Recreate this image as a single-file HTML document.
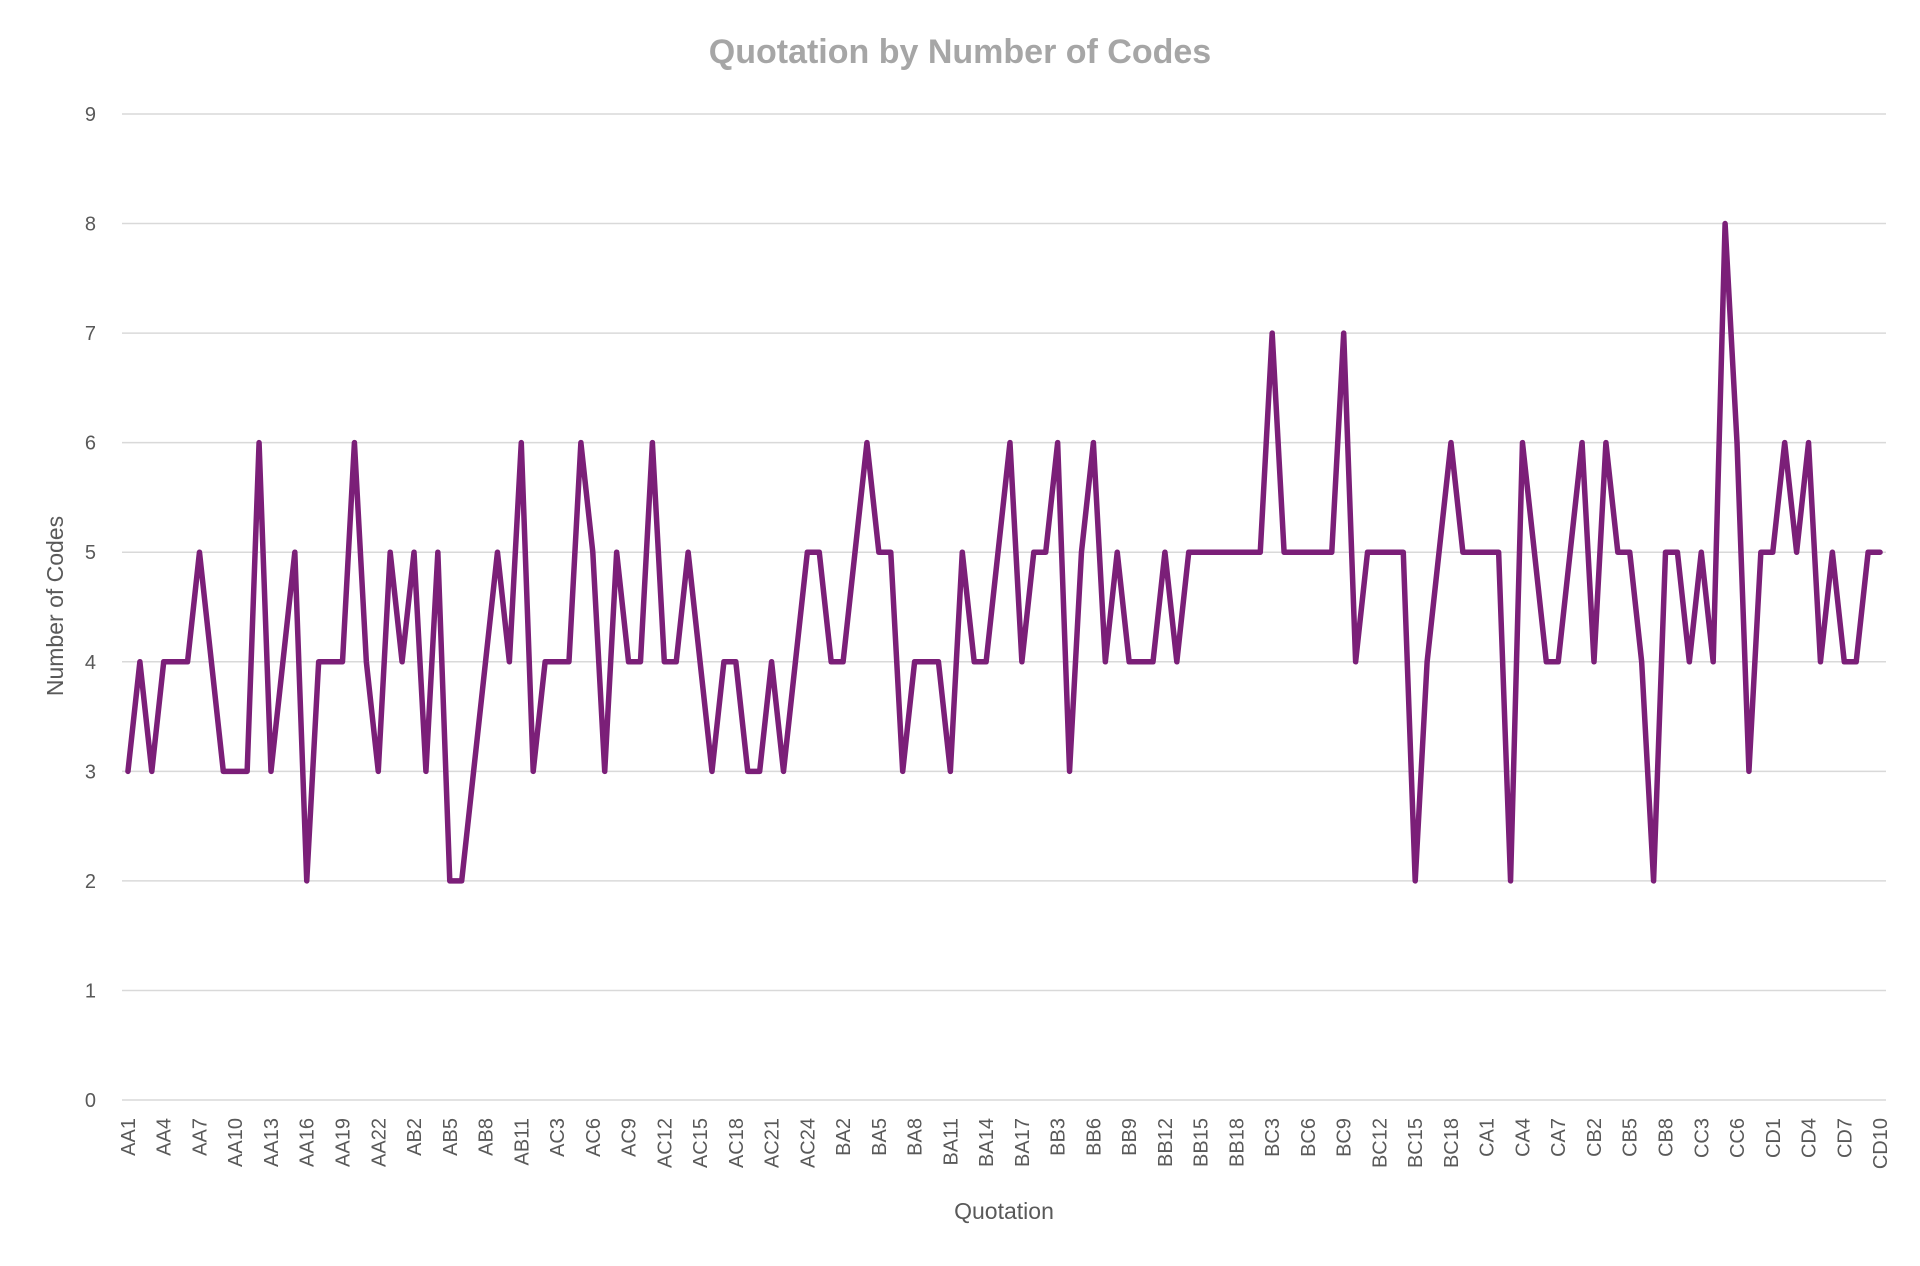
<!DOCTYPE html>
<html><head><meta charset="utf-8"><style>
html,body{margin:0;padding:0;background:#fff;}
svg{display:block;font-family:"Liberation Sans",sans-serif;}
</style></head><body>
<svg id="chart" width="1920" height="1266" viewBox="0 0 1920 1266" xmlns="http://www.w3.org/2000/svg">
<text x="960" y="63" text-anchor="middle" font-size="34" font-weight="bold" fill="#a6a6a6">Quotation by Number of Codes</text>
<g id="grid"></g>
<g id="yticks"></g>
<g id="xticks"></g>
<g id="series"></g>
<text transform="translate(63,606) rotate(-90)" text-anchor="middle" font-size="23" fill="#595959">Number of Codes</text>
<text x="1004" y="1219" text-anchor="middle" font-size="23" fill="#595959">Quotation</text>
</svg>
<script>
const groupPrefixes = ["AA","AB","AC","BA","BB","BC","CA","CB","CC","CD"];
const groupSizes = [23,11,25,17,18,20,8,8,8,10];
const values = [3,4,3,4,4,4,5,4,3,3,3,6,3,4,5,2,4,4,4,6,4,3,5,4,5,
3,5,2,2,3,4,5,4,6,3,4,4,4,6,5,3,5,4,4,6,4,4,5,4,
3,4,4,3,3,4,3,4,5,5,4,4,5,6,5,5,3,4,4,4,3,5,4,4,
5,6,4,5,5,6,3,5,6,4,5,4,4,4,5,4,5,5,5,5,5,5,5,7,5,
5,5,5,5,7,4,5,5,5,5,2,4,5,6,5,5,5,5,2,6,5,4,4,5,
6,4,6,5,5,4,2,5,5,4,5,4,8,6,3,5,5,6,5,6,4,5,4,4,5,5];
const yTicks = [0,1,2,3,4,5,6,7,8,9];

const categories = [];
groupPrefixes.forEach((p,gi)=>{for(let i=1;i<=groupSizes[gi];i++)categories.push(p+i);});

const NS="http://www.w3.org/2000/svg";
const X0=122, X1=1886, Y0=1100, YTOP=114, YMAX=9;
const step=(X1-X0)/categories.length;
const xPos=i=>X0+(i+0.5)*step;
const yPos=v=>Y0-(v/YMAX)*(Y0-YTOP);

const grid=document.getElementById('grid');
const yt=document.getElementById('yticks');
yTicks.forEach(t=>{
  const l=document.createElementNS(NS,'line');
  
  
  l.setAttribute('x1',X0);l.setAttribute('x2',X1);
  l.setAttribute('y1',yPos(t));l.setAttribute('y2',yPos(t));
  l.setAttribute('stroke','#d9d9d9');l.setAttribute('stroke-width','1.5');
  grid.appendChild(l);
  const tx=document.createElementNS(NS,'text');
  
  
  tx.setAttribute('x',96);tx.setAttribute('y',yPos(t)+7);
  tx.setAttribute('text-anchor','end');tx.setAttribute('font-size','20');tx.setAttribute('fill','#595959');
  tx.textContent=t;
  yt.appendChild(tx);
});

const xt=document.getElementById('xticks');
categories.forEach((c,i)=>{
  if(i%3!==0)return;
  const tx=document.createElementNS(NS,'text');
  
  
  const x=xPos(i)+7, y=1118;
  tx.setAttribute('transform','translate('+x+','+y+') rotate(-90)');
  tx.setAttribute('text-anchor','end');tx.setAttribute('font-size','20');tx.setAttribute('fill','#595959');
  tx.textContent=c;
  xt.appendChild(tx);
});

const pts=values.map((v,i)=>xPos(i).toFixed(2)+','+yPos(v).toFixed(2)).join(' ');
const pl=document.createElementNS(NS,'polyline');


pl.setAttribute('points',pts);
pl.setAttribute('fill','none');pl.setAttribute('stroke','#7b1f78');
pl.setAttribute('stroke-width','5.5');pl.setAttribute('stroke-linejoin','round');pl.setAttribute('stroke-linecap','round');
document.getElementById('series').appendChild(pl);
</script>
</body></html>
